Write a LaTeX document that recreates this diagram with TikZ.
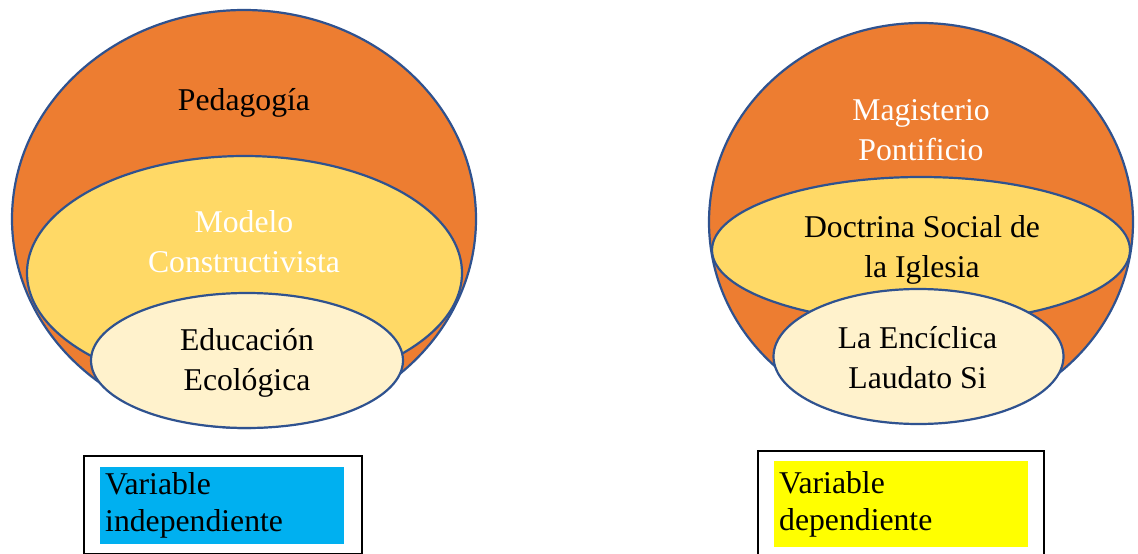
\documentclass[tikz,border=0pt]{standalone}
\usepackage{fontspec}
\setmainfont{Liberation Serif}
\usetikzlibrary{shapes.geometric}
\definecolor{orng}{HTML}{ED7D31}
\definecolor{gold}{HTML}{FFD966}
\definecolor{cream}{HTML}{FFF2CC}
\definecolor{edgeblue}{HTML}{2F528F}
\definecolor{cyanfill}{HTML}{00B0F0}
\definecolor{yel}{HTML}{FFFF00}
\begin{document}
\begin{tikzpicture}[x=1pt,y=-1pt,
  ring/.style={ellipse, draw=edgeblue, line width=2.2pt, inner sep=0pt, outer sep=0pt},
  lbl/.style={font=\fontsize{31.7}{39.5}\selectfont, align=center, inner sep=0pt, anchor=base},
  frame/.style={draw=black, line width=2pt, inner sep=0pt, anchor=north west},
  tag/.style={font=\fontsize{31.7}{37}\selectfont, align=left, inner xsep=5pt, inner ysep=0pt, anchor=north west}
]
\useasboundingbox (0,0) rectangle (1138,554);
\fill[white] (0,0) rectangle (1138,554);

% ---- left diagram ----
\node[ring, fill=orng, minimum width=464pt, minimum height=418pt] (pedOuter) at (244,219) {};
\node[ring, fill=gold, minimum width=435pt, minimum height=234pt] (modMid) at (244.5,273) {};
\node[ring, fill=cream, minimum width=312pt, minimum height=135pt] (eduIn) at (247,360.5) {};
\node[lbl, text=black] (pedText) at (244,110) {Pedagogía};
\node[lbl, text=white] (modText) at (244,272) {Modelo\\Constructivista};
\node[lbl, text=black] (eduText) at (247,390) {Educación\\Ecológica};

% ---- right diagram ----
\node[ring, fill=orng, minimum width=424pt, minimum height=398pt] (magOuter) at (921,222) {};
\node[ring, fill=gold, minimum width=418pt, minimum height=146pt] (docMid) at (921,250) {};
\node[ring, fill=cream, minimum width=290pt, minimum height=135pt] (encIn) at (918.5,356.5) {};
\node[lbl, text=white] (magText) at (921,160) {Magisterio\\Pontificio};
\node[lbl, text=black] (docText) at (922,277) {Doctrina Social de\\la Iglesia};
\node[lbl, text=black] (encText) at (917.5,388) {La Encíclica\\Laudato Si};

% ---- legend boxes ----
\node[frame, minimum width=278pt, minimum height=98pt] (indFrame) at (83,455) {};
\node[tag, fill=cyanfill, text width=234pt, minimum height=77pt] (indTag) at (100,467) {Variable\\independiente};
\node[frame, minimum width=286pt, minimum height=110pt] (depFrame) at (757,450) {};
\node[tag, fill=yel, text width=244pt, minimum height=86pt] (depTag) at (774,461) {Variable\\dependiente};
\end{tikzpicture}
\end{document}
